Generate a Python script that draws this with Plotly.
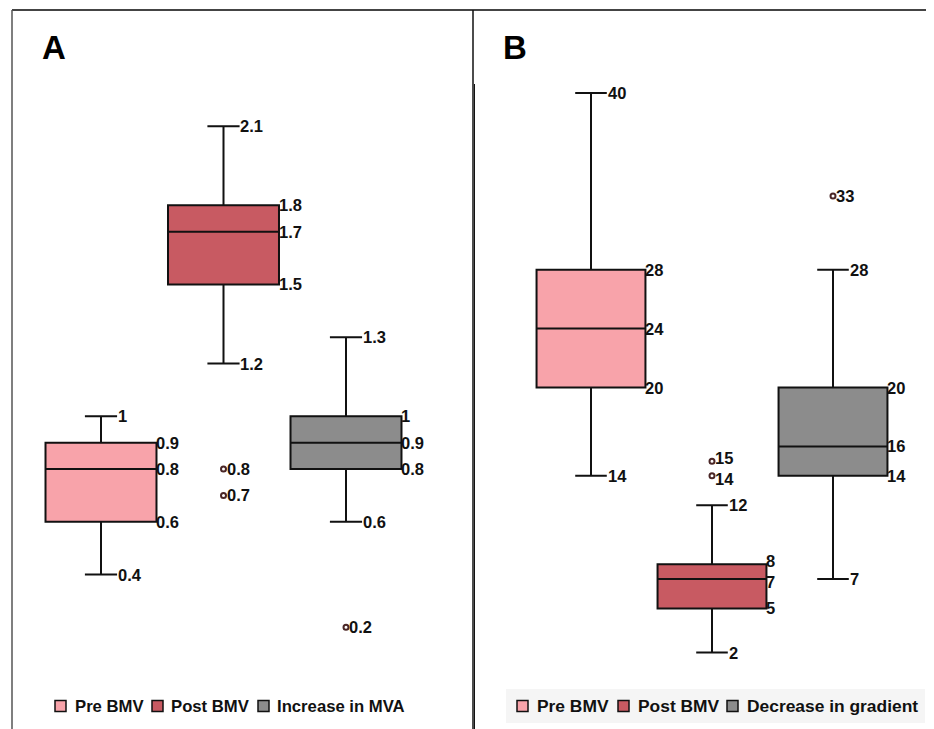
import plotly.graph_objects as go

# ---------------- data ----------------
A_categories = ["Pre BMV", "Post BMV", "Increase in MVA"]
A_lower = [0.4, 1.2, 0.6]
A_q1 = [0.6, 1.5, 0.8]
A_median = [0.8, 1.7, 0.9]
A_q3 = [0.9, 1.8, 1.0]
A_upper = [1.0, 2.1, 1.3]
A_outliers = [[], [0.8, 0.7], [0.2]]

B_categories = ["Pre BMV", "Post BMV", "Decrease in gradient"]
B_lower = [14, 2, 7]
B_q1 = [20, 5, 14]
B_median = [24, 7, 16]
B_q3 = [28, 8, 20]
B_upper = [40, 12, 28]
B_outliers = [[], [15, 14], [33]]

colors = ["#F8A3AA", "#C85A62", "#8C8C8C"]

OFF = 8                      # page body margin of the browser
W, H = 934 - OFF, 729 - OFF  # figure size so that the page fits the window
FONT = "Liberation Sans, Arial, sans-serif"

# axes geometry (reference pixels)
axA_l, axA_r = 12, 473
axB_l, axB_r = 474, 934
cA, sA = 101, 122.5
cB, sB = 591, 121
yA0, kA = 680, 263.7
yB0, kB = 682, 14.725
top, bot = OFF, 729


def X(px):  # reference pixel -> paper x
    return (px - OFF) / W


def Y(py):  # reference pixel -> paper y
    return 1 - (py - OFF) / H


fig = go.Figure()


def add_panel(cats, lo, q1, med, q3, up, outs, xa, ya, box_w, cap_px, edge_px, k):
    for i, c in enumerate(cats):
        fig.add_trace(go.Box(
            x=[c], q1=[q1[i]], median=[med[i]], q3=[q3[i]],
            lowerfence=[lo[i]], upperfence=[up[i]],
            name=c, width=box_w, whiskerwidth=0.29,
            fillcolor=colors[i], line=dict(color="#111111", width=2),
            boxpoints=False, xaxis=xa, yaxis=ya, showlegend=False,
            hoverinfo="skip",
        ))
        if outs[i]:
            fig.add_trace(go.Scatter(
                x=[c] * len(outs[i]), y=outs[i], mode="markers",
                marker=dict(symbol="circle-open", size=5,
                            color="#4a2626", line=dict(width=2)),
                showlegend=False, xaxis=xa, yaxis=ya, hoverinfo="skip",
            ))
        labels = [(up[i], cap_px), (q3[i], edge_px), (med[i], edge_px),
                  (q1[i], edge_px), (lo[i], cap_px)]
        labels += [(o, 2) for o in outs[i]]
        # separate labels that sit very close to each other (in pixels)
        vals = [l[0] for l in labels]
        for v, sh in labels:
            ys = 0
            for v2 in vals:
                if v2 != v and abs(v2 - v) * k < 17:
                    ys = 3 if v > v2 else -3
            fig.add_annotation(
                x=c, y=v, xref=xa, yref=ya, text=f"{v:g}", showarrow=False,
                xanchor="left", yanchor="middle", xshift=sh, yshift=ys,
                borderpad=0,
                font=dict(family=FONT, size=16.5, color="#111111", weight="bold"),
            )


add_panel(A_categories, A_lower, A_q1, A_median, A_q3, A_upper, A_outliers,
          "x", "y", 0.906, 15.5, 54, kA)
add_panel(B_categories, B_lower, B_q1, B_median, B_q3, B_upper, B_outliers,
          "x2", "y2", 0.90, 15.5, 53, kB)

hid = dict(visible=False, fixedrange=True)
fig.update_layout(
    width=W, height=H, margin=dict(l=0, r=0, t=0, b=0),
    paper_bgcolor="white", plot_bgcolor="rgba(0,0,0,0)", boxmode="overlay",
    showlegend=False,
    xaxis=dict(domain=[X(axA_l), X(axA_r)],
               range=[-(cA - axA_l) / sA, (axA_r - cA) / sA], **hid),
    yaxis=dict(domain=[0, 1], range=[-(bot - yA0) / kA, (yA0 - top) / kA], **hid),
    xaxis2=dict(domain=[X(axB_l), 1],
                range=[-(cB - axB_l) / sB, (axB_r - cB) / sB], **hid),
    yaxis2=dict(domain=[0, 1], range=[-(bot - yB0) / kB, (yB0 - top) / kB],
                anchor="x2", **hid),
)

# panel letters
for txt, px in [("A", 54), ("B", 515)]:
    fig.add_annotation(x=X(px), y=Y(48), xref="paper", yref="paper",
                       text=txt, showarrow=False, xanchor="center", yanchor="middle",
                       font=dict(family=FONT, size=33, color="black", weight="bold"))


# frame lines
def pl(x0, y0, x1, y1, color, width):
    fig.add_shape(type="line", xref="paper", yref="paper",
                  x0=X(x0), x1=X(x1), y0=Y(y0), y1=Y(y1),
                  line=dict(color=color, width=width))


pl(12, 10, 934, 10, "#444444", 2)
pl(12, 10, 12, 729, "#555555", 1.5)
pl(473, 10, 473, 729, "#111111", 1.5)
pl(474.5, 84, 474.5, 729, "#111111", 1)

# legends (drawn as keys + text)
fig.add_shape(type="rect", xref="paper", yref="paper",
              x0=X(506), x1=X(925), y0=Y(689), y1=Y(723),
              fillcolor="#F5F5F5", line=dict(width=0), layer="below")

legend_A = [(55, 73), (152, 169), (258, 275)]
legend_B = [(517, 535), (618, 636), (727, 745)]
for cats, pos, fsize in [(A_categories, legend_A, 16.7), (B_categories, legend_B, 17.4)]:
    for i, (c, (ix, tx)) in enumerate(zip(cats, pos)):
        fig.add_shape(type="rect", xref="paper", yref="paper",
                      x0=X(ix), x1=X(ix + 11), y0=Y(700.5), y1=Y(711.5),
                      fillcolor=colors[i], line=dict(color="#111111", width=1.5))
        fig.add_annotation(x=X(tx), y=Y(706), xref="paper", yref="paper",
                           text=c, showarrow=False, xanchor="left", yanchor="middle",
                           font=dict(family=FONT, size=fsize, color="#111111",
                                     weight="bold"))

fig.write_html("out.html")
